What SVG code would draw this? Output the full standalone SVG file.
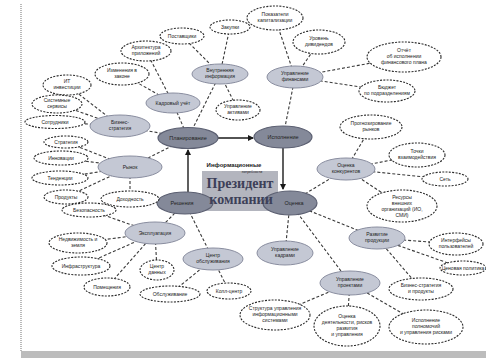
<svg xmlns="http://www.w3.org/2000/svg" width="486" height="358" viewBox="0 0 486 358">
<style>
text{font-family:"Liberation Sans",Arial,sans-serif;text-anchor:middle;fill:#222}
.main ellipse{fill:#848999;stroke:#5c6072;stroke-width:1.2}
.sub ellipse{fill:#c4c8d4;stroke:#8a8ea0;stroke-width:1}
.leaf ellipse{fill:#fff;stroke:#2a2a2a;stroke-width:1.1;stroke-dasharray:2 1.3}
.main text{font-size:5.5px}
.sub text,.leaf text{font-size:5px}
.big{font-family:"Liberation Serif","Times New Roman",serif;font-size:14px;font-weight:bold;fill:#3d4058}
#connectors line{stroke:#3a3a3a;stroke-width:1.1;stroke-dasharray:3 2}
#connectors line.arrow{stroke:#1a1a1a;stroke-width:1.4;stroke-dasharray:none;marker-end:url(#ah)}
</style>
<defs>
<marker id="ah" markerWidth="6" markerHeight="6" refX="5" refY="3" orient="auto" markerUnits="userSpaceOnUse"><path d="M0,0 L6,3 L0,6 z" fill="#1a1a1a"/></marker>
</defs>
<rect width="486" height="358" fill="#fff"/>
<line x1="21" y1="4" x2="21" y2="351" stroke="#8c8c8c" stroke-width="1.2" stroke-dasharray="1 1"/>
<rect x="21" y="351" width="465" height="7" fill="#bcbcbc"/>

<rect id="center-box" x="202" y="171" width="76" height="40" fill="#b3b5be"/>

<g id="connectors">
<line class="arrow" x1="218" y1="138" x2="253" y2="138"/>
<line class="arrow" x1="283" y1="148" x2="283" y2="189"/>
<line class="arrow" x1="188" y1="192" x2="188" y2="150"/>
<line x1="220" y1="74" x2="188" y2="138"/>
<line x1="173" y1="103" x2="188" y2="138"/>
<line x1="120" y1="126" x2="188" y2="138"/>
<line x1="130" y1="167" x2="188" y2="138"/>
<line x1="238" y1="110" x2="220" y2="74"/>
<line x1="295" y1="77" x2="283" y2="137"/>
<line x1="155" y1="233" x2="185" y2="203"/>
<line x1="213" y1="259" x2="185" y2="203"/>
<line x1="285" y1="253" x2="290" y2="203"/>
<line x1="350" y1="283" x2="290" y2="203"/>
<line x1="346" y1="169" x2="290" y2="203"/>
<line x1="377" y1="238" x2="290" y2="203"/>
<line x1="275" y1="18" x2="295" y2="77"/>
<line x1="319" y1="42" x2="295" y2="77"/>
<line x1="404" y1="57" x2="295" y2="77"/>
<line x1="387" y1="91" x2="295" y2="77"/>
<line x1="230" y1="27" x2="220" y2="74"/>
<line x1="182" y1="36" x2="220" y2="74"/>
<line x1="146" y1="51" x2="173" y2="103"/>
<line x1="122" y1="74" x2="173" y2="103"/>
<line x1="67" y1="85" x2="120" y2="126"/>
<line x1="57" y1="104" x2="120" y2="126"/>
<line x1="55" y1="122" x2="120" y2="126"/>
<line x1="66" y1="142" x2="130" y2="167"/>
<line x1="61" y1="158" x2="130" y2="167"/>
<line x1="60" y1="178" x2="130" y2="167"/>
<line x1="66" y1="197" x2="130" y2="167"/>
<line x1="130" y1="199" x2="130" y2="167"/>
<line x1="89" y1="210" x2="155" y2="233"/>
<line x1="78" y1="243" x2="155" y2="233"/>
<line x1="81" y1="266" x2="155" y2="233"/>
<line x1="107" y1="287" x2="155" y2="233"/>
<line x1="157" y1="270" x2="155" y2="233"/>
<line x1="170" y1="294" x2="213" y2="259"/>
<line x1="229" y1="291" x2="213" y2="259"/>
<line x1="275" y1="315" x2="350" y2="283"/>
<line x1="347" y1="326" x2="350" y2="283"/>
<line x1="426" y1="327" x2="350" y2="283"/>
<line x1="421" y1="289" x2="377" y2="238"/>
<line x1="456" y1="244" x2="377" y2="238"/>
<line x1="462" y1="268" x2="377" y2="238"/>
<line x1="371" y1="127" x2="346" y2="169"/>
<line x1="417" y1="155" x2="346" y2="169"/>
<line x1="445" y1="179" x2="346" y2="169"/>
<line x1="402" y1="206" x2="346" y2="169"/>
</g>

<g id="n-plan" class="main"><ellipse cx="188" cy="138" rx="30" ry="10.5"/><text x="188" y="140">Планирование</text></g>
<g id="n-exec" class="main"><ellipse cx="283" cy="137" rx="29" ry="11"/><text x="283" y="139">Исполнение</text></g>
<g id="n-eval" class="main"><ellipse cx="290" cy="203" rx="27" ry="12"/><text x="294" y="205">Оценка</text></g>
<g id="n-dec" class="main"><ellipse cx="185" cy="203" rx="28" ry="11"/><text x="182" y="205">Решения</text></g>

<g id="center">
<text x="234" y="167" style="font-size:6px;font-weight:bold">Информационные</text>
<text x="252" y="173" style="font-size:3.5px">потребности</text>
<text class="big" x="240" y="188">Президент</text>
<text class="big" x="241" y="204">компании</text>
</g>

<g id="s-inner" class="sub"><ellipse cx="220" cy="74" rx="28" ry="10"/><text x="220" y="72">Внутренняя</text><text x="220" y="78">информация</text></g>
<g id="s-hr" class="sub"><ellipse cx="173" cy="103" rx="27" ry="10"/><text x="173" y="105">Кадровый учёт</text></g>
<g id="s-fin" class="sub"><ellipse cx="295" cy="77" rx="28" ry="11"/><text x="295" y="75">Управление</text><text x="295" y="81">финансами</text></g>
<g id="s-strat" class="sub"><ellipse cx="120" cy="126" rx="30" ry="11"/><text x="120" y="124">Бизнес-</text><text x="120" y="130">стратегия</text></g>
<g id="s-market" class="sub"><ellipse cx="130" cy="167" rx="32" ry="11"/><text x="130" y="169">Рынок</text></g>
<g id="s-oper" class="sub"><ellipse cx="155" cy="233" rx="30" ry="11"/><text x="155" y="235">Эксплуатация</text></g>
<g id="s-serv" class="sub"><ellipse cx="213" cy="259" rx="30" ry="11"/><text x="213" y="257">Центр</text><text x="213" y="263">обслуживания</text></g>
<g id="s-staff" class="sub"><ellipse cx="285" cy="253" rx="28" ry="12"/><text x="285" y="251">Управление</text><text x="285" y="257">кадрами</text></g>
<g id="s-proj" class="sub"><ellipse cx="350" cy="283" rx="30" ry="12"/><text x="350" y="281">Управление</text><text x="350" y="287">проектами</text></g>
<g id="s-comp" class="sub"><ellipse cx="346" cy="169" rx="29" ry="11"/><text x="346" y="167">Оценка</text><text x="346" y="173">конкурентов</text></g>
<g id="s-prod" class="sub"><ellipse cx="377" cy="238" rx="28" ry="11"/><text x="377" y="236">Развитие</text><text x="377" y="242">продукции</text></g>

<g id="l1" class="leaf"><ellipse cx="275" cy="18" rx="28" ry="12"/><text x="275" y="16">Показатели</text><text x="275" y="22">капитализации</text></g>
<g id="l2" class="leaf"><ellipse cx="319" cy="42" rx="26" ry="12"/><text x="319" y="40">Уровень</text><text x="319" y="46">дивидендов</text></g>
<g id="l3" class="leaf"><ellipse cx="404" cy="57" rx="37" ry="15"/><text x="404" y="52">Отчёт</text><text x="404" y="58">об исполнении</text><text x="404" y="64">финансового плана</text></g>
<g id="l4" class="leaf"><ellipse cx="387" cy="91" rx="28" ry="11"/><text x="387" y="89">Бюджет</text><text x="387" y="95">по подразделениям</text></g>
<g id="l5" class="leaf"><ellipse cx="230" cy="27" rx="20" ry="7"/><text x="230" y="29">Закупки</text></g>
<g id="l6" class="leaf"><ellipse cx="182" cy="36" rx="22" ry="8"/><text x="182" y="38">Поставщики</text></g>
<g id="l7" class="leaf"><ellipse cx="146" cy="51" rx="25" ry="10"/><text x="146" y="49">Архитектура</text><text x="146" y="55">приложений</text></g>
<g id="l8" class="leaf"><ellipse cx="122" cy="74" rx="27" ry="11"/><text x="122" y="72">Изменения в</text><text x="122" y="78">законе</text></g>
<g id="l9" class="leaf"><ellipse cx="238" cy="110" rx="22" ry="10"/><text x="238" y="108">Управление</text><text x="238" y="114">активами</text></g>
<g id="l10" class="leaf"><ellipse cx="67" cy="85" rx="24" ry="10"/><text x="67" y="83">ИТ</text><text x="67" y="89">инвестиции</text></g>
<g id="l11" class="leaf"><ellipse cx="57" cy="104" rx="25" ry="9"/><text x="57" y="102">Системные</text><text x="57" y="108">сервисы</text></g>
<g id="l12" class="leaf"><ellipse cx="55" cy="122" rx="30" ry="6.5"/><text x="55" y="124">Сотрудники</text></g>
<g id="l13" class="leaf"><ellipse cx="66" cy="142" rx="22" ry="6"/><text x="66" y="144">Стратегия</text></g>
<g id="l14" class="leaf"><ellipse cx="61" cy="158" rx="27" ry="7"/><text x="61" y="160">Инновации</text></g>
<g id="l15" class="leaf"><ellipse cx="60" cy="178" rx="28" ry="7"/><text x="60" y="180">Тенденции</text></g>
<g id="l16" class="leaf"><ellipse cx="66" cy="197" rx="22" ry="7"/><text x="66" y="199">Продукты</text></g>
<g id="l17" class="leaf"><ellipse cx="130" cy="199" rx="29" ry="8"/><text x="130" y="201">Доходность</text></g>
<g id="l18" class="leaf"><ellipse cx="89" cy="210" rx="27" ry="7"/><text x="89" y="212">Безопасность</text></g>
<g id="l19" class="leaf"><ellipse cx="78" cy="243" rx="29" ry="10"/><text x="78" y="241">Недвижимость и</text><text x="78" y="247">земля</text></g>
<g id="l20" class="leaf"><ellipse cx="81" cy="266" rx="29" ry="9"/><text x="81" y="268">Инфраструктура</text></g>
<g id="l21" class="leaf"><ellipse cx="107" cy="287" rx="23" ry="9"/><text x="107" y="289">Помещения</text></g>
<g id="l22" class="leaf"><ellipse cx="157" cy="270" rx="17" ry="10"/><text x="157" y="268">Центр</text><text x="157" y="274">данных</text></g>
<g id="l23" class="leaf"><ellipse cx="170" cy="294" rx="30" ry="8"/><text x="170" y="296">Обслуживание</text></g>
<g id="l24" class="leaf"><ellipse cx="229" cy="291" rx="22" ry="8"/><text x="229" y="293">Колл-центр</text></g>
<g id="l25" class="leaf"><ellipse cx="275" cy="315" rx="35" ry="15"/><text x="275" y="310">Структура управления</text><text x="275" y="316">информационными</text><text x="275" y="322">системами</text></g>
<g id="l26" class="leaf"><ellipse cx="347" cy="326" rx="33" ry="20"/><text x="347" y="318">Оценка</text><text x="347" y="324">деятельности, рисков</text><text x="347" y="330">развития</text><text x="347" y="336">и управления</text></g>
<g id="l27" class="leaf"><ellipse cx="426" cy="327" rx="37" ry="17"/><text x="426" y="322">Исполнение</text><text x="426" y="328">полномочий</text><text x="426" y="334">и управления рисками</text></g>
<g id="l28" class="leaf"><ellipse cx="421" cy="289" rx="32" ry="11"/><text x="421" y="287">Бизнес-стратегия</text><text x="421" y="293">и продукты</text></g>
<g id="l29" class="leaf"><ellipse cx="456" cy="244" rx="27" ry="11"/><text x="456" y="242">Интерфейсы</text><text x="456" y="248">пользователей</text></g>
<g id="l30" class="leaf"><ellipse cx="463" cy="268" rx="23" ry="7"/><text x="463" y="270">Ценовая политика</text></g>
<g id="l31" class="leaf"><ellipse cx="371" cy="127" rx="31" ry="12"/><text x="371" y="125">Прогнозирование</text><text x="371" y="131">рынков</text></g>
<g id="l32" class="leaf"><ellipse cx="417" cy="155" rx="28" ry="12"/><text x="417" y="153">Точки</text><text x="417" y="159">взаимодействия</text></g>
<g id="l33" class="leaf"><ellipse cx="445" cy="179" rx="23" ry="7"/><text x="445" y="181">Сеть</text></g>
<g id="l34" class="leaf"><ellipse cx="402" cy="206" rx="35" ry="16"/><text x="402" y="199">Ресурсы</text><text x="402" y="205">внешних</text><text x="402" y="211">организаций (ИО,</text><text x="402" y="217">СМИ)</text></g>
</svg>
